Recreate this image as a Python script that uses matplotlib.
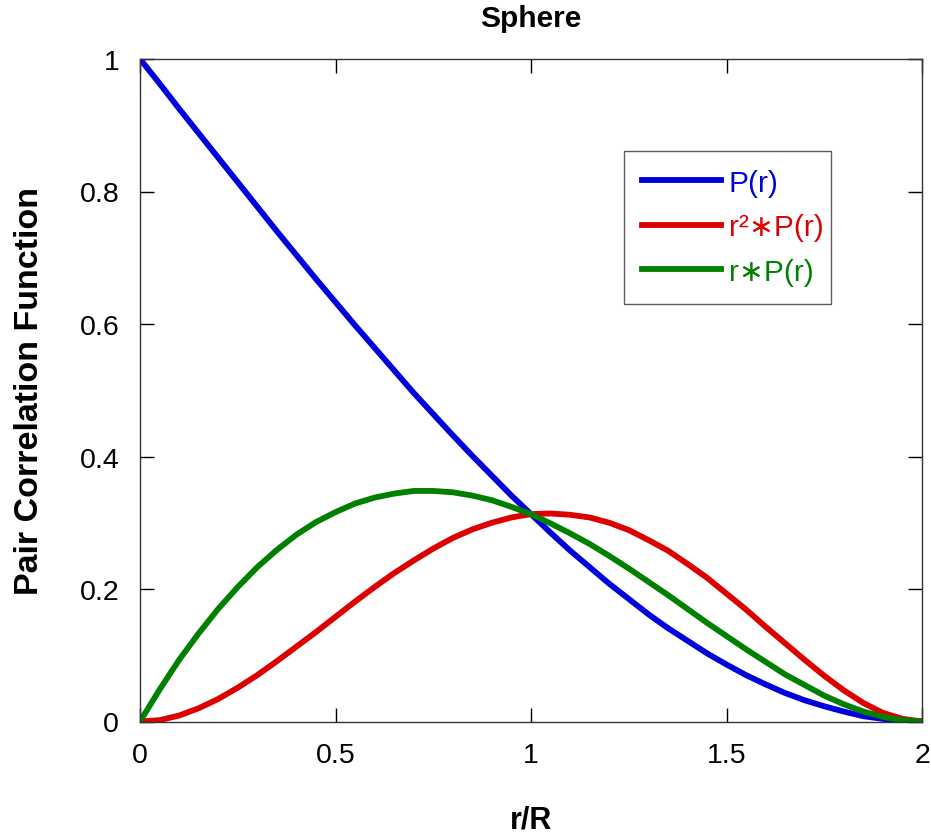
import matplotlib
matplotlib.use('Agg')
import matplotlib.pyplot as plt

plt.rcParams['font.family'] = ['Liberation Sans', 'DejaVu Sans']

r = [0.0, 0.05, 0.1, 0.15, 0.2, 0.25, 0.3, 0.35, 0.4, 0.45, 0.5,
     0.55, 0.6, 0.65, 0.7, 0.75, 0.8, 0.85, 0.9, 0.95, 1.0,
     1.05, 1.1, 1.15, 1.2, 1.25, 1.3, 1.35, 1.4, 1.45, 1.5,
     1.55, 1.6, 1.65, 1.7, 1.75, 1.8, 1.85, 1.9, 1.95, 2.0]
p = [1.0, 0.963, 0.925, 0.888, 0.851, 0.814, 0.777, 0.740, 0.704, 0.668, 0.633,
     0.598, 0.564, 0.530, 0.496, 0.464, 0.432, 0.401, 0.371, 0.341, 0.313,
     0.285, 0.258, 0.233, 0.208, 0.185, 0.162, 0.141, 0.122, 0.103, 0.086,
     0.070, 0.056, 0.043, 0.032, 0.023, 0.015, 0.008, 0.004, 0.001, 0.0]
r2p = [0.0, 0.002, 0.009, 0.020, 0.034, 0.051, 0.070, 0.091, 0.113, 0.135, 0.158,
       0.181, 0.203, 0.224, 0.243, 0.261, 0.277, 0.290, 0.300, 0.308, 0.313,
       0.314, 0.312, 0.308, 0.300, 0.289, 0.274, 0.258, 0.238, 0.217, 0.193,
       0.169, 0.143, 0.118, 0.093, 0.069, 0.047, 0.028, 0.013, 0.004, 0.0]
rp = [0.0, 0.048, 0.093, 0.133, 0.170, 0.203, 0.233, 0.259, 0.282, 0.301, 0.316,
      0.329, 0.338, 0.344, 0.348, 0.348, 0.346, 0.341, 0.334, 0.324, 0.313,
      0.299, 0.284, 0.268, 0.250, 0.231, 0.211, 0.191, 0.170, 0.149, 0.129,
      0.109, 0.090, 0.071, 0.055, 0.039, 0.026, 0.015, 0.007, 0.002, 0.0]

xticks = [0, 0.5, 1, 1.5, 2]
xtick_labels = ['0', '0.5', '1', '1.5', '2']
yticks = [0, 0.2, 0.4, 0.6, 0.8, 1]
ytick_labels = ['0', '0.2', '0.4', '0.6', '0.8', '1']

fig = plt.figure(figsize=(9.31, 8.37), dpi=100)
ax = fig.add_axes([140/931, 1 - 722.5/837, (922-140)/931, (722.5-60)/837])

blue = '#0000dd'
red = '#dd0000'
green = '#008000'
ax.plot(r, p, color=blue, lw=4.2, label='P(r)', solid_joinstyle='round')
ax.plot(r, r2p, color=red, lw=4.2, label='r\u00b2\u2217P(r)', solid_joinstyle='round')
ax.plot(r, rp, color=green, lw=4.2, label='r\u2217P(r)', solid_joinstyle='round')

ax.set_xlim(0, 2)
ax.set_ylim(0, 1)
ax.set_xticks(xticks)
ax.set_xticklabels(xtick_labels)
ax.set_yticks(yticks)
ax.set_yticklabels(ytick_labels)
ax.tick_params(direction='in', top=True, right=True, length=10, width=1,
               labelsize=20.5, pad=15)
for s in ax.spines.values():
    s.set_linewidth(1)
    s.set_color('#333333')

ax.set_title('Sphere', fontsize=21.5, fontweight='bold', pad=24)
ax.set_xlabel('r/R', fontsize=22, fontweight='bold', labelpad=26)
ax.set_ylabel('Pair Correlation Function', fontsize=24.5, fontweight='bold', labelpad=25)

bx0 = (624 - 140) / 782
by1 = (722.5 - 152) / 662.5
bw = (831 - 624) / 782
bh = (297 - 152) / 662.5
leg = ax.legend(loc='upper left', bbox_to_anchor=(bx0, by1 - bh, bw, bh), mode='expand',
                fontsize=21.5, frameon=True, fancybox=False, edgecolor='#333333',
                handlelength=2.65, borderpad=0.6, labelspacing=0.55, handletextpad=0.25,
                borderaxespad=0)
leg.get_frame().set_linewidth(1)
for t, c in zip(leg.get_texts(), [blue, red, green]):
    t.set_color(c)

fig.savefig('out.png', dpi=100)
